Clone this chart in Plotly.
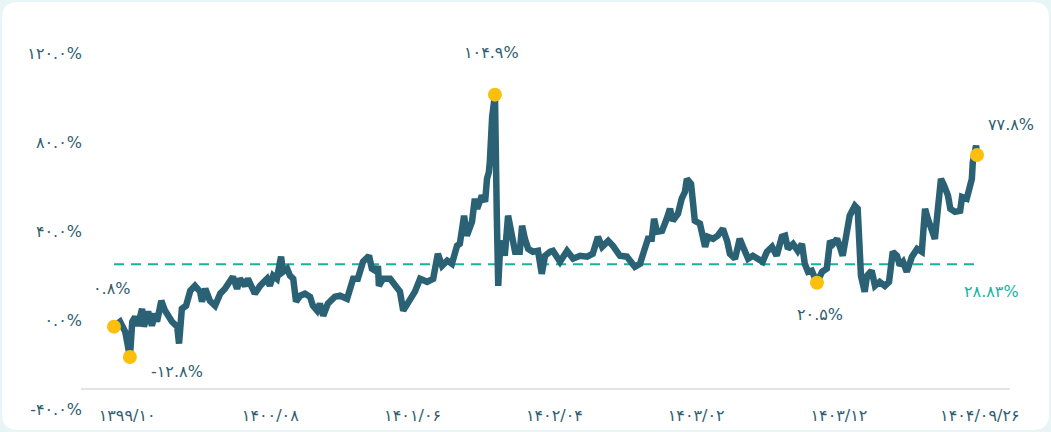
import pandas as pd
import plotly.graph_objects as go

# ── Data ─────────────────────────────────────────────────────────────────────
# Cumulative return (%); x = days after 1399/10/01 (2020-12-21)
BASE_DATE = pd.Timestamp("2020-12-21")

DAYS = [
    -28, -15, -4, 6, 11, 17, 23, 32, 36, 45, 53, 60, 64, 73, 81, 96, 107, 111,
    117, 126, 135, 145, 156, 160, 167, 177, 188, 199, 209, 226, 235, 241, 252,
    258, 273, 284, 299, 305, 312, 320, 329, 333, 342, 348, 355, 361, 370, 380,
    391, 397, 406, 412, 419, 429, 444, 455, 470, 483, 493, 504, 517, 523, 534,
    536, 538, 547, 562, 572, 583, 590, 604, 615, 626, 641, 654, 664, 673, 684,
    694, 705, 711, 720, 726, 737, 743, 748, 758, 765, 769, 773, 775, 780, 786,
    788, 790, 793, 797, 803, 807, 814, 822, 829, 839, 844, 850, 857, 867, 878,
    886, 893, 904, 910, 925, 940, 953, 968, 983, 995, 1006, 1015, 1028, 1038,
    1053, 1068, 1085, 1096, 1106, 1113, 1121, 1126, 1132, 1143, 1153, 1160,
    1166, 1177, 1185, 1192, 1196, 1205, 1209, 1213, 1224, 1230, 1235, 1241,
    1252, 1262, 1273, 1282, 1288, 1299, 1309, 1316, 1327, 1337, 1348, 1358,
    1367, 1378, 1388, 1399, 1406, 1412, 1423, 1433, 1442, 1448, 1455, 1463,
    1474, 1485, 1495, 1502, 1508, 1517, 1523, 1529, 1538, 1544, 1555, 1561,
    1566, 1568, 1576, 1581, 1591, 1598, 1608, 1619, 1628, 1636, 1645, 1651,
    1658, 1666, 1677, 1688, 1698, 1705, 1711, 1720, 1726, 1732, 1739, 1746,
    1754, 1759, 1769, 1780, 1784, 1794, 1799, 1805, 1807, 1814, 1816,
]

RETURNS = [
    0.8, 3.0, -1.5, -12.8, 3.0, 5.2, 1.2, 8.8, 0.8, 7.5, 1.2, 6.6, 3.0, 12.4,
    8.0, 3.0, 0.8, -6.8, 8.8, 10.2, 16.9, 19.1, 16.5, 12.0, 17.8, 12.4, 10.2,
    15.6, 17.8, 23.2, 17.8, 22.3, 19.1, 22.3, 15.6, 19.1, 22.3, 19.1, 23.7,
    22.3, 32.2, 25.4, 26.8, 23.7, 22.3, 12.0, 14.7, 15.6, 14.2, 10.2, 8.0, 11.1,
    5.7, 11.1, 14.2, 14.7, 13.3, 22.3, 22.3, 29.9, 32.6, 26.8, 25.4, 28.1, 19.1,
    22.3, 22.3, 20.0, 16.5, 8.0, 13.3, 16.5, 22.3, 20.9, 22.3, 33.5, 28.1, 30.4,
    29.0, 37.1, 38.0, 50.6, 41.6, 47.9, 58.2, 53.7, 59.6, 56.8, 67.1, 70.2, 74.6,
    95.0, 104.9, 89.6, 50.0, 19.1, 36.0, 39.2, 32.6, 50.6, 40.2, 34.4, 34.4,
    46.1, 40.2, 35.7, 34.4, 34.8, 24.5, 32.6, 34.4, 34.8, 29.9, 34.8, 31.3,
    32.6, 32.2, 33.5, 41.1, 36.6, 39.3, 37.1, 32.6, 32.2, 27.7, 29.0, 35.7,
    40.2, 40.2, 49.2, 43.4, 43.8, 49.2, 53.7, 48.3, 51.4, 58.2, 61.3, 67.1,
    64.9, 56.8, 48.3, 47.0, 40.2, 36.6, 41.1, 40.2, 41.6, 44.7, 39.3, 33.5,
    31.3, 40.2, 36.6, 31.3, 32.6, 31.3, 29.9, 34.4, 36.6, 32.6, 41.1, 41.6,
    35.7, 37.9, 34.8, 37.9, 29.0, 25.4, 25.9, 20.5, 25.4, 26.8, 39.3, 37.9,
    40.2, 36.6, 32.6, 43.4, 50.6, 55.0, 53.7, 32.6, 23.6, 16.4, 23.6, 25.9,
    19.1, 20.9, 19.1, 20.9, 34.4, 32.6, 28.3, 29.9, 25.4, 32.2, 35.7, 34.4,
    53.7, 49.2, 44.7, 40.2, 52.8, 67.1, 64.0, 59.6, 53.7, 52.3, 52.8, 59.0,
    58.2, 62.6, 67.1, 74.6, 82.0, 77.8,
]

AVG_RETURN = 28.83

# first, min, max, recent low, last
HIGHLIGHT_DAYS = [-28, 6, 786, 1474, 1816]

Y_TICKS = [-40, 0, 40, 80, 120]
X_TICK_DATES = ["2020-12-21", "2021-10-23", "2022-08-23", "2023-06-22",
                "2024-04-20", "2025-02-19", "2025-12-17"]
X_TICK_LABELS = ["1399/10", "1400/08", "1401/06", "1402/04",
                 "1403/02", "1403/12", "1404/09/26"]

# ── Style ────────────────────────────────────────────────────────────────────
LINE = "#2b6174"
TEXT = "#2e5e6f"
TEAL = "#17b3a0"
GOLD = "#fcbf0e"
AXIS = "#e3e3e3"
FRAME = "#e7f5f7"
FONT = "DejaVu Sans"

W_PX, H_PX = 1051, 432
L, R, T, B = 81, 41, 61, 14

FA = str.maketrans("0123456789", "۰۱۲۳۴۵۶۷۸۹")


def fa(s):
    return s.translate(FA)


def to_date(d):
    return BASE_DATE + pd.Timedelta(days=d)


x = [to_date(d) for d in DAYS]
val_by_day = dict(zip(DAYS, RETURNS))
hl_x = [to_date(d) for d in HIGHLIGHT_DAYS]
hl_y = [val_by_day[d] for d in HIGHLIGHT_DAYS]

fig = go.Figure()

# average line
fig.add_trace(go.Scatter(
    x=[x[0], x[-1]], y=[AVG_RETURN, AVG_RETURN], mode="lines",
    line=dict(color=TEAL, width=2, dash="10px,7px"), hoverinfo="skip",
))

fig.add_trace(go.Scatter(
    x=x, y=RETURNS, mode="lines",
    line=dict(color=LINE, width=6.5),
    hovertemplate="%{y:.1f}%<extra></extra>",
))

fig.add_trace(go.Scatter(
    x=hl_x, y=hl_y, mode="markers",
    marker=dict(color=GOLD, size=14),
    hoverinfo="skip", cliponaxis=False,
))

# labels next to highlighted points (pixel offsets)
shifts = [(-2, 38), (47, -15), (-3, 42), (3, -32), (34, 31)]
for xx, yy, (dx, dy) in zip(hl_x, hl_y, shifts):
    fig.add_annotation(
        x=xx, y=yy, text=fa(f"{yy:.1f}%"), showarrow=False,
        xshift=dx, yshift=dy, font=dict(size=16, color=TEXT, family=FONT),
    )

fig.add_annotation(
    x=x[-1], y=AVG_RETURN, text=fa(f"{AVG_RETURN:.2f}%"), showarrow=False,
    xshift=14, yshift=-27, font=dict(size=16, color=TEAL, family=FONT),
)

# white rounded card on a light frame
pw, ph = W_PX - L - R, H_PX - T - B


def px(v):
    return (v - L) / pw


def py(v):
    return 1 - (v - T) / ph


x0, y0, x1, y1, r = 2, 2, 1049, 430, 16
card = (
    f"M {px(x0 + r)} {py(y0)} L {px(x1 - r)} {py(y0)} "
    f"Q {px(x1)} {py(y0)} {px(x1)} {py(y0 + r)} L {px(x1)} {py(y1 - r)} "
    f"Q {px(x1)} {py(y1)} {px(x1 - r)} {py(y1)} L {px(x0 + r)} {py(y1)} "
    f"Q {px(x0)} {py(y1)} {px(x0)} {py(y1 - r)} L {px(x0)} {py(y0 + r)} "
    f"Q {px(x0)} {py(y0)} {px(x0 + r)} {py(y0)} Z"
)
fig.add_shape(type="path", path=card, xref="paper", yref="paper",
              fillcolor="white", line=dict(width=0), layer="below")

fig.update_xaxes(
    type="date", automargin=False,
    range=[to_date(-98.5), to_date(1886.5)],
    anchor="free", position=(H_PX - B - 389) / ph,
    showline=True, linecolor=AXIS, linewidth=2,
    showgrid=False, zeroline=False, ticks="",
    tickvals=[pd.Timestamp(d) for d in X_TICK_DATES],
    ticktext=[fa(t) for t in X_TICK_LABELS],
    tickfont=dict(size=16, color=TEXT, family=FONT),
    ticklabelstandoff=12,
)
fig.update_yaxes(
    automargin=False,
    range=[-40.2, 120],
    tickvals=Y_TICKS, ticktext=[fa(f"{v:.1f}%") for v in Y_TICKS],
    tickfont=dict(size=16, color=TEXT, family=FONT),
    showgrid=False, zeroline=False, showline=False, ticks="",
    ticklabelshift=-8, ticklabelstandoff=-2, ticklabeloverflow="allow",
)

fig.update_layout(
    width=W_PX, height=H_PX,
    margin=dict(l=L, r=R, t=T, b=B, autoexpand=False),
    paper_bgcolor=FRAME, plot_bgcolor="rgba(0,0,0,0)",
    showlegend=False,
    font=dict(family=FONT, color=TEXT),
)

# drop the browser's default 8px body margin so the figure sits at (0, 0)
fig.write_html(
    "out.html",
    config={"displayModeBar": False},
    post_script="document.body.style.margin='0';document.body.style.overflow='hidden';",
)
